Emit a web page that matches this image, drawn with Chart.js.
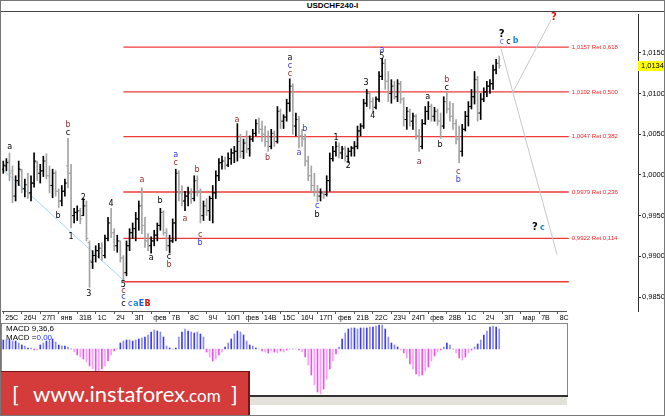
<!DOCTYPE html>
<html>
<head>
<meta charset="utf-8">
<title>USDCHF240-I</title>
<script src="https://cdn.jsdelivr.net/npm/chart.js@4.4.1/dist/chart.umd.min.js"></script>
<style>
  html, body { margin: 0; padding: 0; background: #fff; }
  #marco { position: relative; width: 665px; height: 416px; overflow: hidden; background: #fff; font-family: 'Liberation Sans', Arial, sans-serif; }
  #titulo { position: absolute; left: 0; top: 0; width: 665px; height: 11px; border-bottom: 1px solid #444; text-align: center; font: bold 8px 'Liberation Sans'; line-height: 11px; color: #000; }
  #cPrecio { position: absolute; left: 0; top: 12px; }
  #cMacd { position: absolute; left: 0; top: 323px; }
  .macdTxt { position: absolute; left: 6px; font: 8px 'Liberation Sans'; color: #000; white-space: nowrap; }
  .macdTxt span { color: #2030ff; }
  #franja { position: absolute; left: 250px; top: 397px; width: 317px; height: 8px; background: #e2e2da; }
  #banner { position: absolute; left: 0; top: 371px; width: 248px; height: 45px; background: #d43b3b; border-top: 1px solid #7a1414; border-right: 2px solid #7a1414; color: #fff; font: 22px Lato, 'Open Sans', sans-serif; line-height: 44px; white-space: nowrap; }
  #banner .br { position: absolute; top: 0; }
  #banner .url { position: absolute; left: 33px; top: 0; }
  #banner .com { font-size: 17px; }
  #borde { position: absolute; left: 0; top: 0; width: 663px; height: 414px; border: 1px solid #777; pointer-events: none; }
</style>
</head>
<body>
<div id="marco">
  <div id="titulo">USDCHF240-I</div>
  <canvas id="cPrecio" width="665" height="311"></canvas>
  <canvas id="cMacd" width="568" height="74"></canvas>
  <div class="macdTxt" style="top:324px">MACD 9,36,6</div>
  <div class="macdTxt" style="top:333px">MACD =<span>0,00</span></div>
  <div id="franja"></div>
  <div id="banner"><span class="br" style="left:12px">[</span><span class="url">www.instaforex<span class="com">.com</span></span><span class="br" style="left:231px">]</span></div>
  <div id="borde"></div>
</div>
<script>
// USDCHF H4 - barras OHLC, niveles fibo y MACD

// datos de las barras (precio)
const aperturas = [1.0007,1.0011,1.0017,1.0005,0.9974,0.9993,1.0005,0.9983,0.9988,0.9978,
  0.9990,1.0015,1.0002,1.0005,1.0017,0.9999,0.9987,1.0002,0.9980,0.9968,
  0.9980,1.0011,1.0002,0.9950,0.9954,0.9956,0.9950,0.9962,0.9917,0.9893,
  0.9901,0.9907,0.9910,0.9901,0.9922,0.9941,0.9929,0.9913,0.9919,0.9898,
  0.9880,0.9913,0.9929,0.9934,0.9946,0.9962,0.9938,0.9919,0.9913,0.9919,
  0.9926,0.9938,0.9954,0.9929,0.9913,0.9919,0.9941,1.0002,0.9978,0.9968,
  0.9974,0.9978,0.9971,0.9993,0.9980,0.9950,0.9962,0.9956,0.9971,0.9978,
  0.9999,1.0015,1.0017,1.0012,1.0020,1.0027,1.0029,1.0041,1.0029,1.0039,
  1.0032,1.0044,1.0051,1.0063,1.0056,1.0050,1.0041,1.0035,1.0051,1.0041,
  1.0078,1.0066,1.0071,1.0088,1.0109,1.0060,1.0068,1.0048,1.0044,1.0017,
  0.9999,0.9987,0.9980,0.9974,0.9978,0.9976,0.9993,1.0020,1.0029,1.0035,
  1.0027,1.0032,1.0023,1.0029,1.0033,1.0035,1.0054,1.0060,1.0088,1.0100,
  1.0090,1.0083,1.0093,1.0121,1.0137,1.0115,1.0100,1.0109,1.0096,1.0112,
  1.0093,1.0068,1.0078,1.0066,1.0072,1.0048,1.0035,1.0063,1.0078,1.0084,
  1.0072,1.0078,1.0066,1.0060,1.0090,1.0081,1.0072,1.0063,1.0044,1.0029,
  1.0056,1.0072,1.0084,1.0096,1.0117,1.0076,1.0093,1.0102,1.0109,1.0112,
  1.0129,1.0137];
const maximos = [1.0017,1.0020,1.0027,1.0011,0.9999,1.0017,1.0007,0.9995,1.0002,0.9999,
  1.0027,1.0017,1.0013,1.0023,1.0026,1.0011,1.0007,1.0005,0.9983,0.9987,
  0.9995,1.0045,1.0013,0.9959,0.9962,0.9959,0.9971,0.9968,0.9919,0.9907,
  0.9913,0.9916,0.9917,0.9926,0.9948,0.9959,0.9934,0.9926,0.9919,0.9901,
  0.9919,0.9934,0.9941,0.9954,0.9968,0.9984,0.9948,0.9928,0.9924,0.9932,
  0.9941,0.9959,0.9956,0.9934,0.9926,0.9946,1.0007,1.0005,0.9987,0.9980,
  0.9985,0.9983,0.9999,0.9999,0.9983,0.9968,0.9971,0.9974,0.9987,1.0005,
  1.0020,1.0023,1.0022,1.0027,1.0032,1.0035,1.0063,1.0050,1.0044,1.0054,
  1.0048,1.0056,1.0068,1.0070,1.0066,1.0060,1.0054,1.0056,1.0054,1.0084,
  1.0081,1.0074,1.0093,1.0118,1.0112,1.0076,1.0072,1.0056,1.0050,1.0023,
  1.0011,1.0002,0.9987,0.9983,0.9980,0.9999,1.0027,1.0035,1.0041,1.0039,
  1.0035,1.0035,1.0033,1.0035,1.0041,1.0060,1.0063,1.0093,1.0105,1.0102,
  1.0095,1.0096,1.0127,1.0143,1.0142,1.0127,1.0117,1.0115,1.0117,1.0115,
  1.0095,1.0083,1.0081,1.0076,1.0074,1.0056,1.0068,1.0084,1.0090,1.0087,
  1.0083,1.0081,1.0076,1.0096,1.0102,1.0090,1.0088,1.0068,1.0060,1.0062,
  1.0078,1.0090,1.0105,1.0127,1.0121,1.0100,1.0107,1.0115,1.0117,1.0135,
  1.0142,1.0146];
const minimos = [1.0002,1.0005,0.9993,0.9966,0.9968,0.9987,0.9978,0.9973,0.9971,0.9968,
  0.9985,0.9993,0.9990,0.9998,0.9995,0.9978,0.9972,0.9974,0.9960,0.9962,
  0.9974,0.9984,0.9935,0.9941,0.9944,0.9940,0.9950,0.9919,0.9862,0.9885,
  0.9893,0.9898,0.9895,0.9898,0.9919,0.9923,0.9907,0.9905,0.9893,0.9869,
  0.9876,0.9907,0.9922,0.9919,0.9932,0.9928,0.9911,0.9907,0.9904,0.9913,
  0.9919,0.9932,0.9926,0.9907,0.9904,0.9917,0.9919,0.9968,0.9962,0.9956,
  0.9962,0.9965,0.9968,0.9974,0.9941,0.9944,0.9950,0.9944,0.9941,0.9971,
  0.9993,1.0007,1.0007,1.0010,1.0013,1.0015,1.0017,1.0021,1.0020,1.0027,
  1.0023,1.0041,1.0048,1.0051,1.0041,1.0035,1.0029,1.0032,1.0035,1.0039,
  1.0057,1.0057,1.0066,1.0078,1.0050,1.0048,1.0033,1.0035,1.0011,0.9993,
  0.9980,0.9974,0.9967,0.9968,0.9971,0.9974,0.9980,1.0017,1.0023,1.0021,
  1.0020,1.0017,1.0015,1.0023,1.0023,1.0032,1.0048,1.0057,1.0084,1.0081,
  1.0078,1.0081,1.0090,1.0117,1.0105,1.0090,1.0088,1.0093,1.0090,1.0088,
  1.0060,1.0056,1.0060,1.0056,1.0044,1.0029,1.0032,1.0062,1.0068,1.0066,
  1.0066,1.0061,1.0045,1.0057,1.0076,1.0066,1.0056,1.0038,1.0015,1.0023,
  1.0054,1.0060,1.0081,1.0087,1.0066,1.0068,1.0090,1.0096,1.0100,1.0105,
  1.0124,1.0131];
const cierres = [1.0012,1.0015,1.0002,0.9974,0.9993,1.0007,0.9983,0.9988,0.9978,0.9990,
  1.0017,1.0002,1.0005,1.0017,0.9999,0.9987,1.0002,0.9980,0.9968,0.9980,
  0.9990,1.0002,0.9950,0.9954,0.9956,0.9946,0.9962,0.9922,0.9895,0.9901,
  0.9907,0.9910,0.9901,0.9922,0.9941,0.9929,0.9913,0.9919,0.9898,0.9880,
  0.9913,0.9929,0.9934,0.9946,0.9962,0.9938,0.9919,0.9913,0.9919,0.9926,
  0.9938,0.9954,0.9929,0.9913,0.9919,0.9941,1.0002,0.9978,0.9968,0.9974,
  0.9978,0.9971,0.9993,0.9980,0.9950,0.9962,0.9956,0.9971,0.9978,0.9999,
  1.0015,1.0017,1.0012,1.0020,1.0027,1.0029,1.0041,1.0029,1.0039,1.0032,
  1.0044,1.0051,1.0063,1.0056,1.0050,1.0041,1.0035,1.0051,1.0041,1.0078,
  1.0066,1.0071,1.0088,1.0109,1.0060,1.0068,1.0048,1.0044,1.0017,0.9999,
  0.9987,0.9980,0.9974,0.9978,0.9976,0.9993,1.0020,1.0029,1.0035,1.0027,
  1.0032,1.0023,1.0029,1.0033,1.0035,1.0054,1.0060,1.0088,1.0100,1.0090,
  1.0083,1.0093,1.0121,1.0137,1.0115,1.0100,1.0109,1.0096,1.0112,1.0093,
  1.0068,1.0078,1.0066,1.0072,1.0048,1.0035,1.0063,1.0078,1.0084,1.0072,
  1.0078,1.0066,1.0060,1.0090,1.0081,1.0072,1.0063,1.0044,1.0029,1.0056,
  1.0072,1.0084,1.0096,1.0117,1.0076,1.0093,1.0102,1.0109,1.0112,1.0129,
  1.0137,1.0134];

// histograma MACD
const macdHist = [0.00045,0.00045,0.00045,0.0004,0.0004,
  0.0003,0.0002,0.00015,0.00005,0.00005,-0.00005,-0.00005,
  0.0002,0.0003,0.0004,0.00045,0.0005,0.00035,
  0.0002,0.00015,0.00015,0.0001,0,
  -0.00015,-0.0003,-0.0004,-0.0005,-0.00065,-0.00085,-0.001,-0.0011,-0.0011,-0.001,-0.00085,-0.0006,-0.0003,-0.0001,
  0,
  0.0003,0.0004,0.00045,0.00045,0.0004,0.00045,0.0005,0.00055,0.0006,0.0007,0.00085,0.00095,0.0009,0.00085,0.0006,
  0.00015,0.00005,0,0.00005,
  0.0006,0.00085,0.001,0.0009,0.00085,0.0008,0.00085,0.00075,0.0006,
  -0.00015,-0.0004,-0.0006,-0.0005,-0.0003,-0.00015,
  0.0001,0.0003,0.0005,0.00075,0.0009,0.00085,0.0007,0.0004,0.0002,0.00015,0.00005,
  0,-0.0001,-0.00015,-0.0002,-0.0001,-0.00015,-0.0002,-0.0001,-0.00015,-0.00005,0,0,0,
  -0.00005,-0.00015,-0.0004,-0.0008,-0.0013,-0.0018,-0.00215,-0.00225,-0.002,-0.0015,-0.001,-0.0006,-0.00025,0.0001,
  0.0005,0.0008,0.001,0.00105,0.00105,0.001,0.00105,0.00105,0.00105,0.0011,0.0011,0.00115,0.0012,0.0012,0.001,0.0006,0.0003,0.0002,0.0001,
  -0.00005,-0.0002,-0.00045,-0.00075,-0.001,-0.00125,-0.00135,-0.0013,-0.0011,-0.0009,-0.0006,-0.00035,-0.00015,-0.00005,
  0.0001,0.0003,0.0002,0,
  -0.0002,-0.00045,-0.00055,-0.0004,-0.0002,-0.00005,
  0.0001,0.00025,0.00045,0.0007,0.0009,0.0011,0.00115,0.0011,0.001];

// eje de fechas (una etiqueta cada 6 barras de 4 horas)
const fechas = ['25С','26Ч','27П','янв','31В','1С','2Ч','3П','фев','7В','8С','9Ч','10П','фев','14В','15С',
  '16Ч','17П','фев','21В','22С','23Ч','24П','фев','28В','1С','2Ч','3П','мар','7В','8С'];
const precioTicks = [0.985, 0.990, 0.995, 1.000, 1.005, 1.010, 1.015];

// niveles de retroceso fibo
const fibPrecios = [1.0157, 1.0102, 1.0047, 0.9979, 0.9922, 0.98688];
const fibRatios = [0.618, 0.500, 0.382, 0.236, 0.114, null];
const fibDesde = 39, fibHasta = 183.6;

// lineas auxiliares (barra, precio)
const tendenciaX = [0, 38.9], tendenciaY = [1.0006, 0.9871];
const proyBajaX = [161.6, 179.8], proyBajaY = [1.0155, 0.9902];
const proyAltaX = [165.5, 177.8], proyAltaY = [1.0102, 1.0190];

// etiquetas de ondas
const etqIdx = [2.1,21,21,17.8,22,26,27.8,35,39,39,39,39,41.2,43.1,44.9,46.8,45,50.9,48,53.8,53.8,56,56,62.9,59,63.9,63.9,75.9,85.8,
  93.1,93.1,93.1,97.9,96,101.9,101.9,108,112,117.8,120,122.9,122.9,135,137.8,141.8,144,144,147.7,147.7,161.8,161.8,164,166.3,172.6,175,178.8];
const etqPrecio = [1.0034,1.0061,1.0051,0.9950,0.9924,0.9972,0.9854,0.9965,0.9865,0.9857,0.9850,0.9841,0.9841,0.9841,0.9841,0.9841,
  0.9994,0.9968,0.9898,0.9899,0.9889,1.0024,1.0015,1.0006,0.9946,0.9926,0.9917,1.0067,1.0021,1.0144,1.0134,1.0124,1.0056,1.0027,
  0.9962,0.9951,1.0045,1.0011,1.0113,1.0072,1.0154,1.0145,1.0016,1.0096,1.0037,1.0117,1.0107,1.0004,0.9994,1.0173,1.0163,1.0163,
  1.0165,0.9935,0.9935,1.0193];
const etqTexto = ['a','b','c','b','1','2','3','4','5','c','c','c','c','a','E','B','a','b','a','c','b','a','c','b','a','c','b','a','b',
  'a','c','c','b','a','c','b','1','2','3','4','a','5','a','a','b','b','c','c','b','?','c','c','b','?','c','?'];
const etqColor = ['n','m','n','n','n','n','n','n','n','m','a','n','a','c','e','r','m','n','n','n','m','a','m','m','m','m','a','m','m',
  'n','a','m','a','a','a','n','n','n','n','n','a','n','m','n','n','m','n','m','a','n','v','n','c','n','c','r'];

const paleta = { n: '#000000', m: '#9b2b2b', a: '#3535ee', c: '#1b8fd8', e: '#1f5fe0', r: '#e01010', v: '#7070ff' };

console.log('barras:', cierres.length, 'macd:', macdHist.length);

const coma = (v, d) => v.toFixed(d).replace('.', ',');
const idx = cierres.map((_, i) => i);
const colorBarra = i => cierres[i] >= aperturas[i] ? '#000000' : '#a4a4a4';
const linea = (xs, ys, color, ancho) => ({
  type: 'line',
  data: xs.map((x, k) => ({ x: x, y: ys[k] })),
  borderColor: color,
  borderWidth: ancho,
  pointRadius: 0,
  fill: false,
  order: 5
});

// textos sobre el grafico principal
const plugTextos = {
  id: 'textos',
  afterDatasetsDraw(chart) {
    const { ctx, scales: { x, y } } = chart;
    ctx.save();
    ctx.textBaseline = 'middle';
    ctx.font = '6px "Liberation Sans"';
    ctx.fillStyle = '#ff1e1e';
    ctx.textAlign = 'left';
    fibPrecios.forEach((p, k) => {
      if (fibRatios[k] === null) return;
      ctx.fillText(coma(p, 4) + ' Ret ' + coma(fibRatios[k], 3), x.getPixelForValue(fibHasta) + 3, y.getPixelForValue(p));
    });
    ctx.textAlign = 'center';
    etqTexto.forEach((t, k) => {
      const fuerte = '?EB'.includes(t) || etqColor[k] === 'c';
      ctx.font = (fuerte ? 'bold ' : '') + (t === '?' ? '10px' : '8px') + ' "DejaVu Sans"';
      ctx.fillStyle = paleta[etqColor[k]];
      ctx.fillText(t, x.getPixelForValue(etqIdx[k]), y.getPixelForValue(etqPrecio[k]));
    });
    ctx.restore();
  },
  afterDraw(chart) {
    const { ctx, chartArea, scales: { x, y } } = chart;
    ctx.save();
    // linea del eje de fechas
    ctx.strokeStyle = '#555';
    ctx.lineWidth = 1;
    ctx.beginPath();
    ctx.moveTo(chartArea.left, chartArea.bottom + 0.5);
    ctx.lineTo(x.getPixelForValue(183), chartArea.bottom + 0.5);
    ctx.stroke();
    // precio actual
    const ultimo = cierres[cierres.length - 1];
    const yp = Math.round(y.getPixelForValue(ultimo));
    ctx.fillStyle = '#ffff00';
    ctx.fillRect(chartArea.right, yp - 5, 27, 10);
    ctx.fillStyle = '#000';
    ctx.font = '7.5px "Liberation Sans"';
    ctx.textBaseline = 'middle';
    ctx.textAlign = 'left';
    ctx.fillText(coma(ultimo, 4), chartArea.right + 3, yp);
    ctx.restore();
  }
};

const datasetsPrecio = [
  {
    type: 'bar',
    data: idx.map(i => ({ x: i, y: [minimos[i], maximos[i]] })),
    backgroundColor: idx.map(colorBarra),
    borderWidth: 0,
    barThickness: 1,
    grouped: false,
    order: 2
  },
  {
    type: 'line',
    data: idx.map(i => ({ x: i - 0.33, y: aperturas[i] })),
    showLine: false,
    pointStyle: 'line',
    pointRadius: 1,
    pointHoverRadius: 1,
    pointBorderWidth: 1,
    pointBorderColor: idx.map(colorBarra),
    order: 1
  },
  {
    type: 'line',
    data: idx.map(i => ({ x: i + 0.33, y: cierres[i] })),
    showLine: false,
    pointStyle: 'line',
    pointRadius: 1,
    pointHoverRadius: 1,
    pointBorderWidth: 1,
    pointBorderColor: idx.map(colorBarra),
    order: 1
  },
  linea(tendenciaX, tendenciaY, '#a8d8ec', 1),
  linea(proyBajaX, proyBajaY, '#c8c8c8', 1),
  linea(proyAltaX, proyAltaY, '#c8c8c8', 1)
];
fibPrecios.forEach(p => datasetsPrecio.push(linea([fibDesde, fibHasta], [p, p], '#f03a3a', 1.3)));

new Chart(document.getElementById('cPrecio'), {
  type: 'scatter',
  data: { datasets: datasetsPrecio },
  options: {
    responsive: false,
    animation: false,
    layout: { padding: { left: 2, right: 0, top: 0, bottom: 0 } },
    plugins: { legend: { display: false }, tooltip: { enabled: false } },
    scales: {
      x: {
        type: 'linear', min: -0.42, max: 206.07, offset: false,
        afterBuildTicks: ax => { ax.ticks = fechas.map((_, k) => ({ value: k * 6 })); },
        afterFit: ax => { ax.height = 12; ax.paddingLeft = 0; ax.paddingRight = 0; ax.paddingTop = 0; ax.paddingBottom = 0; },
        border: { display: false },
        grid: { drawOnChartArea: false, drawTicks: true, tickLength: 3, color: '#555', offset: false },
        ticks: {
          autoSkip: false, maxRotation: 0, minRotation: 0, align: 'start', labelOffset: 2, padding: 0,
          color: '#000', font: { family: 'Liberation Sans', size: 7 },
          callback: (v, i) => fechas[i]
        }
      },
      y: {
        type: 'linear', position: 'right', min: 0.98329, max: 1.01976,
        afterBuildTicks: ax => { ax.ticks = precioTicks.map(v => ({ value: v })); },
        afterFit: ax => { ax.width = 27; ax.paddingTop = 0; ax.paddingBottom = 0; ax.paddingLeft = 0; ax.paddingRight = 0; },
        border: { display: true, color: '#333' },
        grid: { drawOnChartArea: false, drawTicks: true, tickLength: 3, color: '#333' },
        ticks: { padding: 1, color: '#000', font: { family: 'Liberation Sans', size: 7.5 }, callback: v => coma(v, 4) }
      }
    }
  },
  plugins: [plugTextos]
});

// caja del panel MACD
const plugCaja = {
  id: 'caja',
  afterDraw(chart) {
    const { ctx, chartArea: a } = chart;
    ctx.save();
    ctx.strokeStyle = '#888';
    ctx.lineWidth = 1;
    ctx.strokeRect(a.left - 0.5, a.top + 0.5, a.right - a.left + 1, a.bottom - a.top);
    ctx.strokeStyle = '#333';
    ctx.lineWidth = 2;
    ctx.beginPath();
    ctx.moveTo(a.left, a.bottom);
    ctx.lineTo(a.right + 1, a.bottom);
    ctx.stroke();
    ctx.restore();
  }
};

new Chart(document.getElementById('cMacd'), {
  type: 'scatter',
  data: {
    datasets: [{
      type: 'bar',
      data: idx.map(i => ({ x: i, y: macdHist[i] })),
      backgroundColor: idx.map(i => macdHist[i] >= 0 ? (i % 2 ? '#8a8aff' : '#3c3cf0') : (i % 2 ? '#ff9cff' : '#f04ef0')),
      borderWidth: 0,
      barThickness: 1,
      grouped: false
    }]
  },
  options: {
    responsive: false,
    animation: false,
    layout: { padding: { left: 2, right: 1, top: 0, bottom: 1 } },
    plugins: { legend: { display: false }, tooltip: { enabled: false } },
    scales: {
      x: { type: 'linear', display: false, min: -0.42, max: 183.0, offset: false },
      y: { type: 'linear', display: false, min: -0.00235, max: 0.0013 }
    }
  },
  plugins: [plugCaja]
});
</script>
</body>
</html>
